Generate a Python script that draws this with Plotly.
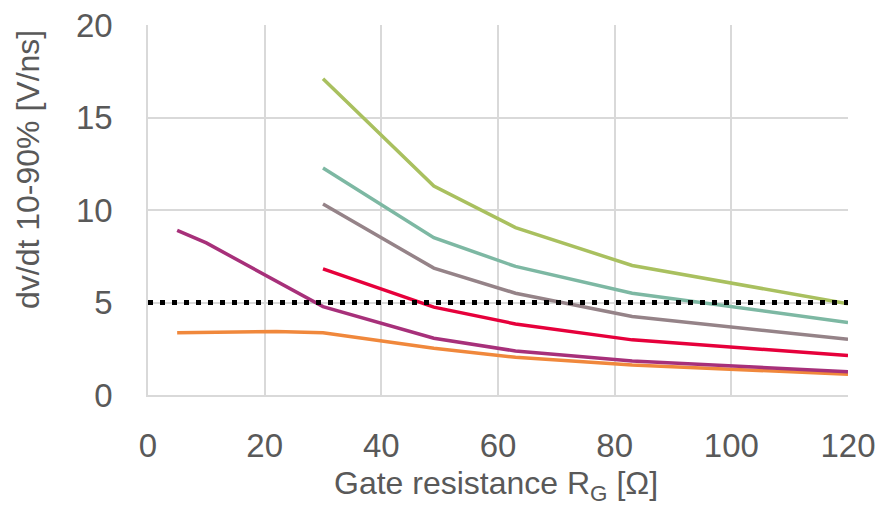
import plotly.graph_objects as go

x_hi = [30, 49, 63, 83, 120]
green = [17.1, 11.3, 9.05, 7.0, 4.93]
teal = [12.27, 8.5, 6.95, 5.5, 3.92]
grey = [10.32, 6.86, 5.5, 4.24, 3.01]
red = [6.82, 4.75, 3.84, 2.98, 2.13]

x_purple = [5, 10, 30, 49, 63, 83, 120]
purple = [8.9, 8.22, 4.78, 3.07, 2.38, 1.84, 1.26]

x_orange = [5, 22, 30, 49, 63, 83, 120]
orange = [3.37, 3.43, 3.37, 2.53, 2.04, 1.62, 1.12]

limit_x = [0, 120]
limit_y = [5, 5]

x_ticks = [0, 20, 40, 60, 80, 100, 120]
y_ticks = [0, 5, 10, 15, 20]

FONT = "Liberation Sans, Arial, sans-serif"
TXT = "#595959"
GRID = "#d9d9d9"
LW = 3.5

fig = go.Figure()
series = [
    (x_orange, orange, "#F0883C"),
    (x_purple, purple, "#A7307A"),
    (x_hi, red, "#E6003B"),
    (x_hi, grey, "#958388"),
    (x_hi, teal, "#7DB8A3"),
    (x_hi, green, "#A9C05F"),
]
for xs, ys, c in series:
    fig.add_trace(go.Scatter(x=xs, y=ys, mode="lines",
                             line=dict(color=c, width=LW), hoverinfo="skip"))

fig.add_trace(go.Scatter(x=limit_x, y=limit_y, mode="lines",
                         line=dict(color="black", width=5, dash="5px,7px")))

fig.update_layout(
    width=881, height=505,
    margin=dict(l=148, r=33, t=25, b=110, autoexpand=False),
    plot_bgcolor="white", paper_bgcolor="white",
    showlegend=False,
    font=dict(family=FONT, color=TXT),
    xaxis=dict(range=[0, 120], tickvals=x_ticks, showgrid=True, gridcolor=GRID,
               gridwidth=1.5, showline=True, linecolor=GRID, linewidth=1.5,
               zeroline=False, ticks="outside", ticklen=21, tickcolor="rgba(0,0,0,0)",
               tickfont=dict(size=33, color=TXT, family=FONT), automargin=False),
    yaxis=dict(range=[0, 20], tickvals=y_ticks, showgrid=True, gridcolor=GRID,
               gridwidth=1.5, showline=True, linecolor=GRID, linewidth=1.5,
               zeroline=False, ticks="outside", ticklen=27, tickcolor="rgba(0,0,0,0)",
               tickfont=dict(size=33, color=TXT, family=FONT), automargin=False),
    annotations=[
        dict(text="Gate resistance R<sub>G</sub> [Ω]", xref="paper", yref="paper",
             x=0.497, y=(395 - 463) / 370, xanchor="center", yanchor="top", showarrow=False,
             font=dict(size=32, color=TXT, family=FONT)),
        dict(text="dv/dt 10-90% [V/ns]", xref="paper", yref="paper",
             x=(28 - 148) / 700, y=(395 - 170) / 370, xanchor="center", yanchor="middle",
             showarrow=False, textangle=-90, font=dict(size=32, color=TXT, family=FONT)),
    ],
)
fig.write_html("out.html", config={"displayModeBar": False},
               post_script="document.body.style.margin='0';document.body.style.overflow='hidden';")
